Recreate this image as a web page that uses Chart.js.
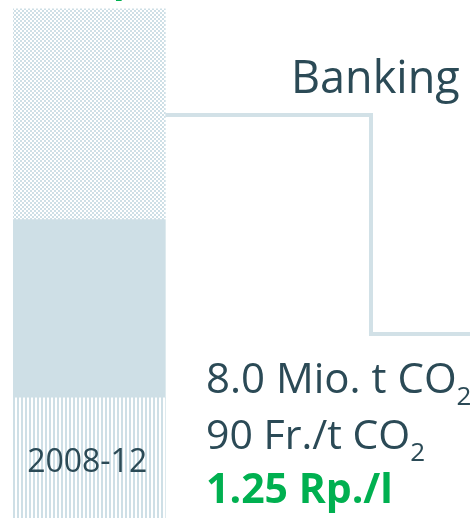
<!DOCTYPE html>
<html>
<head>
<meta charset="utf-8">
<script src="https://cdn.jsdelivr.net/npm/chart.js@4/dist/chart.umd.min.js"></script>
<style>
  html, body { margin: 0; padding: 0; background: #ffffff; }
  #wrap { width: 470px; height: 518px; position: relative; }
</style>
</head>
<body>
<div id="wrap"><canvas id="c" width="470" height="518"></canvas></div>
<script>
// ---- data (units: arbitrary) ----
const categories = ['2008-12', 'gap', 'next'];
const baseSegment = [2.32, null, null];     // vertical stripes (bottom)
const solidSegment = [3.44, null, null];    // solid fill
const checkSegment = [4.07, null, null];    // checkered (top)
const bankingLineX = [1, 2.35, 2.35, 3];
const bankingLineY = [7.78, 7.78, 3.55, 3.55];
const annotationLines = ['8.0 Mio. t CO', '90 Fr./t CO', '1.25 Rp./l'];
const bankingLabel = 'Banking';
const topLabel = '1.25 Rp./l';

// ---- colours / patterns ----
const BAR = '#cedfe6';
const LINE = '#d2e1e7';
const TEXT = '#2b4a56';
const GREEN = '#00b050';

function makePattern(w, h, draw) {
  const c = document.createElement('canvas');
  c.width = w; c.height = h;
  const g = c.getContext('2d');
  g.fillStyle = '#ffffff'; g.fillRect(0, 0, w, h);
  g.fillStyle = BAR;
  draw(g);
  return g.createPattern(c, 'repeat');
}
const checker = makePattern(4, 4, g => { g.fillRect(0, 0, 2, 2); g.fillRect(2, 2, 2, 2); });
const stripes = makePattern(4, 4, g => { g.fillRect(1, 0, 2, 4); });

const linePoints = bankingLineX.map((x, i) => ({ x: x, y: bankingLineY[i] }));

const textPlugin = {
  id: 'texts',
  afterDatasetsDraw(chart) {
    const ctx = chart.ctx;
    const meta = chart.getDatasetMeta(0);
    const bar = meta.data[0];
    ctx.save();
    ctx.textBaseline = 'alphabetic';
    // label inside bar
    ctx.fillStyle = TEXT;
    ctx.font = '32px "Open Sans"';
    ctx.textAlign = 'center';
    ctx.fillText(categories[0], bar.x - 2, 472);
    // top cut-off green label
    ctx.fillStyle = GREEN;
    ctx.font = 'bold 38px "Open Sans"';
    ctx.textAlign = 'left';
    ctx.fillText(topLabel, 2, -8);
    // Banking
    ctx.fillStyle = TEXT;
    ctx.font = '45px "Open Sans"';
    ctx.textAlign = 'left';
    ctx.fillText(bankingLabel, 291, 93);
    // annotation lines
    const x0 = 206;
    const base = [393, 449, 503];
    const fs = [42, 41];
    for (let i = 0; i < 2; i++) {
      ctx.font = fs[i] + 'px "Open Sans"';
      ctx.fillText(annotationLines[i], x0, base[i]);
      const w = ctx.measureText(annotationLines[i]).width;
      ctx.font = '26px "Open Sans"';
      ctx.fillText('2', x0 + w, base[i] + 12);
    }
    ctx.fillStyle = GREEN;
    ctx.font = 'bold 41px "Open Sans"';
    ctx.fillText(annotationLines[2], x0, base[2]);
    ctx.restore();
  }
};

new Chart(document.getElementById('c'), {
  type: 'bar',
  data: {
    labels: categories,
    datasets: [
      { type: 'bar', label: 'base', data: baseSegment, backgroundColor: stripes, borderWidth: 0, stack: 's', xAxisID: 'x', yAxisID: 'y', order: 2 },
      { type: 'bar', label: 'solid', data: solidSegment, backgroundColor: BAR, borderWidth: 0, stack: 's', xAxisID: 'x', yAxisID: 'y', order: 2 },
      { type: 'bar', label: 'check', data: checkSegment, backgroundColor: checker, borderWidth: 0, stack: 's', xAxisID: 'x', yAxisID: 'y', order: 2 },
      { type: 'line', label: 'banking', data: linePoints, xAxisID: 'xl', yAxisID: 'y',
        borderColor: LINE, borderWidth: 4, pointRadius: 0, tension: 0, fill: false,
        borderJoinStyle: 'miter', borderCapStyle: 'butt', order: 1, clip: false }
    ]
  },
  options: {
    responsive: false,
    animation: false,
    devicePixelRatio: 1,
    layout: { padding: { left: 13, right: 0, top: 0, bottom: 0 } },
    plugins: { legend: { display: false }, tooltip: { enabled: false } },
    datasets: { bar: { barPercentage: 1, categoryPercentage: 1, grouped: false } },
    scales: {
      x: { type: 'category', stacked: true, display: false, offset: true },
      xl: { type: 'linear', axis: 'x', min: 0, max: 3, offset: false, display: false },
      y: { type: 'linear', stacked: true, min: 0, max: 10, display: false }
    }
  },
  plugins: [textPlugin]
});
</script>
</body>
</html>
